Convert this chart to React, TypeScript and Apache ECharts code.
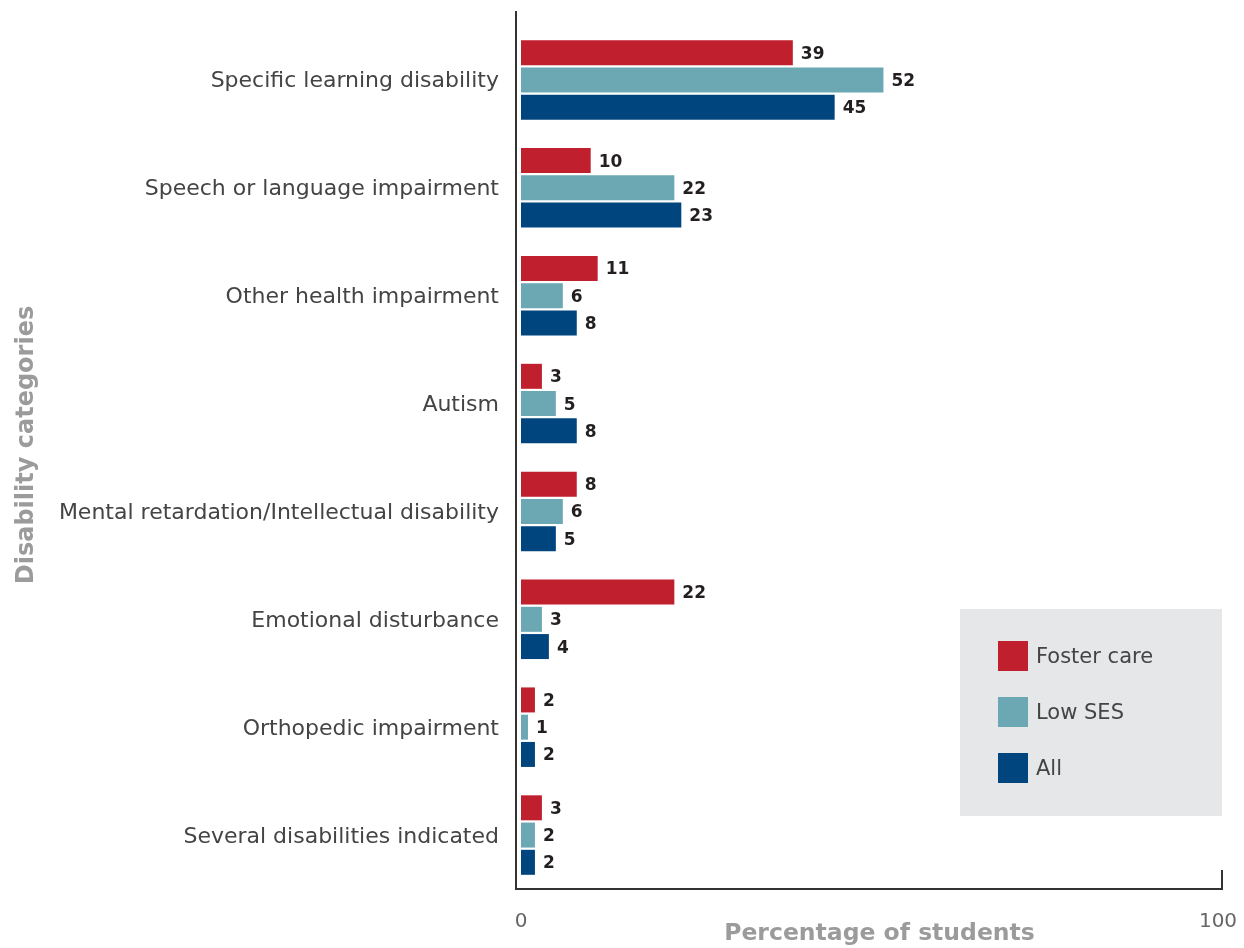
import React, { useEffect, useRef } from "react";
import * as echarts from "echarts";

const categories = [
  "Specific learning disability",
  "Speech or language impairment",
  "Other health impairment",
  "Autism",
  "Mental retardation/Intellectual disability",
  "Emotional disturbance",
  "Orthopedic impairment",
  "Several disabilities indicated",
];
const seriesNames = ["Foster care", "Low SES", "All"];
const fosterCare = [39, 10, 11, 3, 8, 22, 2, 3];
const lowSES = [52, 22, 6, 5, 6, 3, 1, 2];
const allStudents = [45, 23, 8, 8, 5, 4, 2, 2];
const xMin = 0;
const xMax = 100;

const colors = ["#c01f2e", "#6ca8b3", "#00457e"];
const FONT = "'DejaVu Sans', 'Open Sans', sans-serif";

export default function App() {
  const ref = useRef<HTMLDivElement>(null);
  useEffect(() => {
    const chart = echarts.init(ref.current!, null, { renderer: "svg" });
    const gridLeft = 521;
    const gridRight = 26;
    const gridTop = 26;
    const gridBottom = 59;
    const H = 948;
    const frameX = 516;
    const frameTop = 11;
    const frameBottom = H - gridBottom;
    const frameRight = 1222;
    const values = [fosterCare, lowSES, allStudents];
    chart.setOption({
      animation: false,
      textStyle: { fontFamily: FONT },
      grid: {
        left: gridLeft,
        right: gridRight,
        top: gridTop,
        bottom: gridBottom,
        containLabel: false,
        outerBoundsMode: "none",
      },
      xAxis: {
        type: "value",
        min: xMin,
        max: xMax,
        interval: 100,
        axisLine: { show: false },
        axisTick: { show: false },
        splitLine: { show: false },
        axisLabel: { color: "#666", fontSize: 20, margin: 21, fontFamily: FONT },
        name: "Percentage of students",
        nameLocation: "middle",
        nameGap: 31,
        nameMoveOverlap: false,
        nameTextStyle: {
          color: "#9b9b9b",
          fontSize: 23.5,
          fontWeight: "bold",
          fontFamily: FONT,
          padding: [0, 0, 0, 20],
        },
      },
      yAxis: {
        type: "category",
        data: categories,
        inverse: true,
        offset: 5,
        axisLine: { show: false },
        axisTick: { show: false },
        axisLabel: { color: "#444", fontSize: 22, margin: 17, fontFamily: FONT },
      },
      legend: {
        orient: "vertical",
        left: 998,
        top: 641,
        padding: 0,
        itemWidth: 30,
        itemHeight: 30,
        itemGap: 26,
        icon: "rect",
        data: seriesNames,
        textStyle: { fontSize: 21, color: "#444", fontFamily: FONT, padding: [0, 0, 0, 3] },
      },
      graphic: [
        { type: "rect", z: -1, shape: { x: 960, y: 609, width: 262, height: 207 }, style: { fill: "#e6e7e9" } },
        {
          type: "polyline",
          shape: {
            points: [
              [frameX, frameTop],
              [frameX, frameBottom],
              [frameRight, frameBottom],
              [frameRight, frameBottom - 19],
            ],
          },
          style: { stroke: "#333", lineWidth: 2, fill: null },
        },
        {
          type: "text",
          x: 25,
          y: 445,
          rotation: Math.PI / 2,
          style: {
            text: "Disability categories",
            fill: "#9b9b9b",
            font: `bold 24px ${FONT}`,
            align: "center",
            verticalAlign: "middle",
          },
        },
      ],
      series: seriesNames.map((name, i) => ({
        name,
        type: "bar",
        data: values[i],
        barWidth: 25,
        barGap: "9%",
        itemStyle: { color: colors[i] },
        label: {
          show: true,
          position: "right",
          distance: 8,
          color: "#231f20",
          fontSize: 17,
          fontWeight: "bold",
          fontFamily: FONT,
        },
      })),
    });
    return () => chart.dispose();
  }, []);
  return <div ref={ref} style={{ position: "fixed", left: 0, top: 0, width: 1244, height: 948 }} />;
}
